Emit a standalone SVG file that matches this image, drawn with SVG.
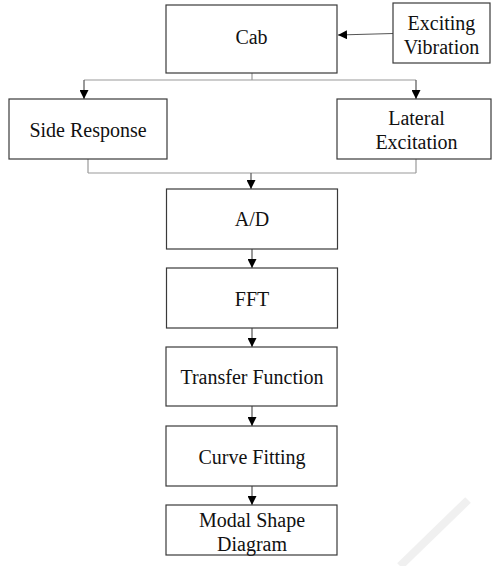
<svg xmlns="http://www.w3.org/2000/svg" width="492" height="566" viewBox="0 0 492 566">
<style>
.box{fill:#fff;stroke:#3a3a3a;stroke-width:1.2}
.lbl{font-family:"Liberation Serif","Times New Roman",serif;font-size:20px;fill:#111;text-anchor:middle}
.conn{fill:none;stroke:#9a9a9a;stroke-width:1.2}
.arr{fill:none;stroke:#555;stroke-width:1.2;marker-end:url(#ah)}
</style>
<defs>
<marker id="ah" markerUnits="userSpaceOnUse" markerWidth="9" markerHeight="9" refX="9" refY="4.5" orient="auto">
<path d="M0,0 L9,4.5 L0,9 z" fill="#000"/>
</marker>
</defs>
<rect width="492" height="566" fill="#fff"/>
<line x1="400" y1="566" x2="468" y2="500" stroke="#f0f0f0" stroke-width="8"/>
<g id="connectors">
<path class="arr" d="M393,33.5 L338,35"/>
<path class="conn" d="M252,73 V80 M84,80 H416"/>
<path class="arr" d="M84,80 V99"/>
<path class="arr" d="M416,80 V99"/>
<path class="conn" d="M88,159 V173 M416,159 V173 M88,173 H416"/>
<path class="arr" d="M251,173 V189"/>
<path class="arr" d="M252,249 V268"/>
<path class="arr" d="M252,328 V347"/>
<path class="arr" d="M252,406 V426"/>
<path class="arr" d="M252,486 V505"/>
</g>
<g id="cab"><rect class="box" x="166" y="5" width="171" height="68"/><text class="lbl" x="251.5" y="44">Cab</text></g>
<g id="exciting"><rect class="box" x="393" y="3" width="97" height="60"/><text class="lbl" x="441.5" y="30">Exciting</text><text class="lbl" x="441.5" y="53.5">Vibration</text></g>
<g id="side"><rect class="box" x="9" y="99" width="158" height="60"/><text class="lbl" x="88" y="136.5">Side Response</text></g>
<g id="lateral"><rect class="box" x="337" y="99" width="154" height="60"/><text class="lbl" x="416.5" y="125">Lateral</text><text class="lbl" x="416.5" y="149">Excitation</text></g>
<g id="ad"><rect class="box" x="166.5" y="189" width="171" height="60"/><text class="lbl" x="252" y="226">A/D</text></g>
<g id="fft"><rect class="box" x="166.5" y="268" width="171" height="60"/><text class="lbl" x="252" y="305.5">FFT</text></g>
<g id="transfer"><rect class="box" x="166" y="347" width="171" height="59"/><text class="lbl" x="252" y="384">Transfer Function</text></g>
<g id="curve"><rect class="box" x="166" y="426" width="171" height="60"/><text class="lbl" x="252" y="463.5">Curve Fitting</text></g>
<g id="modal"><rect class="box" x="166" y="505" width="171" height="50"/><text class="lbl" x="252" y="526.5">Modal Shape</text><text class="lbl" x="252" y="551">Diagram</text></g>
</svg>
